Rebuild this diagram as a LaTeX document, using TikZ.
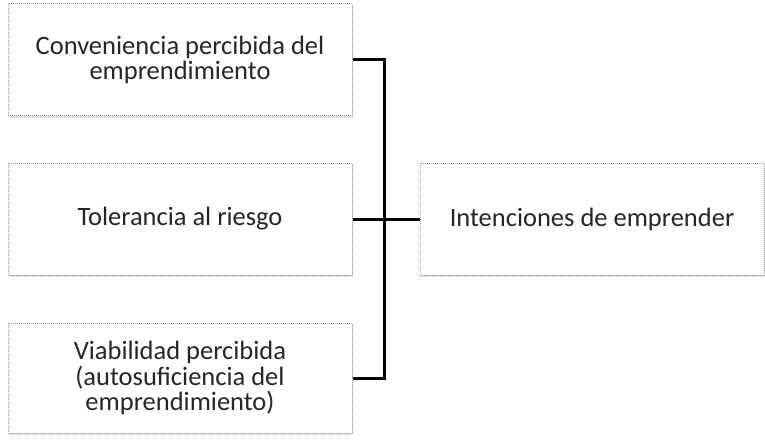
\documentclass[tikz,border=0pt]{standalone}
\usepackage{fontspec}
\setmainfont{Carlito}
\usetikzlibrary{shadows}

\begin{document}
\begin{tikzpicture}[x=1pt,y=-1pt,
		box/.style={draw=gray!80, line width=1pt, densely dotted, fill=white,
			drop shadow={shadow xshift=0.8pt, shadow yshift=-1.8pt, fill=gray!50},
			minimum width=344pt, minimum height=112pt, inner sep=0pt,
			align=center, font=\fontsize{26.5}{25.5}\selectfont, text=black!85},
		link/.style={line width=3pt, black}]
			\useasboundingbox (0,0) rectangle (765,441);
			\node [box] (conv) at (180,60) {Conveniencia percibida del\\emprendimiento};
			\node [box] (tol) at (180,219) {Tolerancia al riesgo};
			\node [box, minimum height=110pt] (viab) at (180,378) {Viabilidad percibida\\(autosuficiencia del\\emprendimiento)};
			\node [box] (inten) at (592,219) {Intenciones de emprender};
			\coordinate (hub) at (384,219);
			\draw [link] (conv.east) -| (hub) |- (viab.east);
			\draw [link] (tol.east) -- (inten.west);
		\end{tikzpicture}
\end{document}
